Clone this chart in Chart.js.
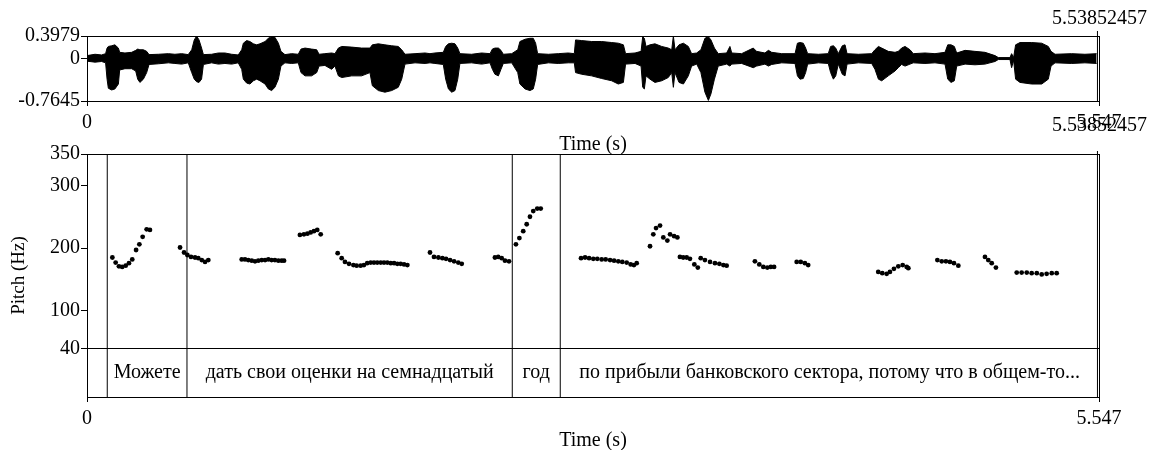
<!DOCTYPE html>
<html><head><meta charset="utf-8">
<script src="https://cdn.jsdelivr.net/npm/chart.js@4.4.0/dist/chart.umd.min.js"></script>
<style>
html,body{margin:0;padding:0;background:#fff;}
#wrap{position:relative;width:1149px;height:450px;overflow:hidden;}
canvas{position:absolute;left:0;top:0;}
</style></head><body>
<div id="wrap"><canvas id="wave" width="1149" height="450"></canvas><canvas id="pitch" width="1149" height="450"></canvas></div>
<script>
// ---- waveform envelope (seconds, amplitude) ----
const waveTimes = [0.000,0.044,0.080,0.102,0.110,0.117,0.135,0.153,0.172,0.179,0.208,0.245,0.267,0.278,0.290,0.309,0.327,0.340,0.391,0.446,0.482,0.519,0.555,0.574,0.588,0.601,0.614,0.628,0.638,0.683,0.720,0.756,0.793,0.829,0.848,0.857,0.875,0.893,0.912,0.930,0.948,0.976,0.994,1.012,1.030,1.049,1.063,1.085,1.122,1.158,1.173,1.195,1.231,1.259,1.272,1.304,1.341,1.359,1.378,1.396,1.451,1.505,1.551,1.564,1.597,1.633,1.670,1.706,1.725,1.743,1.798,1.853,1.880,
1.907,1.953,1.966,1.981,1.999,2.017,2.032,2.044,2.108,2.163,2.209,2.222,2.236,2.255,2.269,2.282,2.328,2.361,2.373,2.401,2.428,2.446,2.459,2.470,2.529,2.583,2.638,2.671,2.678,2.711,2.766,2.821,2.876,2.912,2.940,2.952,3.004,3.037,3.046,3.055,3.064,3.086,3.113,3.150,3.186,3.205,3.214,3.223,3.245,3.269,3.296,3.314,3.342,3.365,3.387,3.406,3.420,3.439,3.460,3.506,3.524,3.534,3.588,3.652,3.670,
3.716,3.735,3.753,3.808,3.881,3.894,3.908,3.926,3.939,3.950,4.009,4.063,4.076,4.091,4.104,4.118,4.140,4.155,4.166,4.228,4.301,4.319,4.338,4.356,4.392,4.429,4.447,4.465,4.484,4.511,4.529,4.593,4.648,4.703,4.718,4.736,4.754,4.767,4.813,4.867,4.922,4.977,4.995,5.059,5.068,5.079,5.090,5.114,5.178,5.233,5.269,5.284,5.306,5.397,5.470,5.534];
const waveMax = [0.047,0.071,0.059,0.082,0.182,0.211,0.223,0.240,0.182,0.106,0.094,0.106,0.141,0.164,0.152,0.152,0.123,0.065,0.071,0.082,0.071,0.082,0.065,0.152,0.328,0.398,0.328,0.182,0.065,0.071,0.094,0.094,0.071,0.059,0.152,0.269,0.316,0.299,0.258,0.240,0.258,0.299,0.357,0.386,0.375,0.269,0.123,0.065,0.082,0.071,0.164,0.182,0.164,0.152,0.071,0.082,0.094,0.082,0.182,0.211,0.199,0.182,0.182,0.240,0.258,0.240,0.223,0.211,0.152,0.071,0.082,0.094,0.082,
0.094,0.106,0.211,0.258,0.269,0.258,0.182,0.082,0.071,0.094,0.082,0.164,0.182,0.182,0.141,0.071,0.082,0.152,0.299,0.340,0.357,0.357,0.269,0.082,0.071,0.082,0.094,0.082,0.328,0.316,0.299,0.299,0.281,0.269,0.240,0.082,0.094,0.123,0.386,0.357,0.211,0.240,0.258,0.211,0.182,0.152,0.398,0.152,0.240,0.269,0.211,0.082,0.094,0.152,0.357,0.386,0.328,0.182,0.082,0.094,0.211,0.094,0.082,0.182,0.123,
0.094,0.141,0.106,0.082,0.082,0.269,0.281,0.269,0.182,0.082,0.071,0.082,0.211,0.223,0.182,0.082,0.223,0.240,0.082,0.071,0.082,0.152,0.211,0.182,0.123,0.106,0.123,0.182,0.211,0.152,0.082,0.094,0.082,0.106,0.240,0.240,0.211,0.094,0.141,0.123,0.106,0.047,0.012,0.012,0.082,0.012,0.240,0.281,0.281,0.269,0.211,0.123,0.071,0.082,0.071,0.082];
const waveMin = [-0.052,-0.070,-0.058,-0.082,-0.374,-0.537,-0.567,-0.549,-0.461,-0.210,-0.187,-0.187,-0.228,-0.374,-0.432,-0.374,-0.257,-0.111,-0.099,-0.082,-0.093,-0.105,-0.082,-0.257,-0.374,-0.420,-0.432,-0.374,-0.111,-0.082,-0.105,-0.093,-0.105,-0.082,-0.198,-0.374,-0.444,-0.461,-0.403,-0.374,-0.403,-0.461,-0.549,-0.578,-0.520,-0.374,-0.140,-0.082,-0.093,-0.082,-0.257,-0.315,-0.315,-0.257,-0.140,-0.128,-0.198,-0.140,-0.315,-0.345,-0.315,-0.315,-0.257,-0.491,-0.578,-0.607,-0.578,-0.520,-0.374,-0.105,-0.082,-0.093,-0.082,
-0.093,-0.111,-0.374,-0.549,-0.607,-0.578,-0.374,-0.093,-0.082,-0.105,-0.082,-0.198,-0.286,-0.315,-0.198,-0.093,-0.082,-0.257,-0.461,-0.549,-0.578,-0.549,-0.374,-0.111,-0.082,-0.093,-0.082,-0.082,-0.257,-0.286,-0.315,-0.362,-0.403,-0.461,-0.432,-0.105,-0.093,-0.140,-0.520,-0.549,-0.315,-0.374,-0.432,-0.403,-0.345,-0.257,-0.520,-0.257,-0.432,-0.461,-0.315,-0.140,-0.105,-0.257,-0.607,-0.754,-0.637,-0.374,-0.140,-0.105,-0.140,-0.105,-0.093,-0.169,-0.140,
-0.105,-0.140,-0.111,-0.082,-0.093,-0.315,-0.374,-0.362,-0.257,-0.105,-0.082,-0.093,-0.257,-0.374,-0.315,-0.105,-0.286,-0.315,-0.105,-0.082,-0.093,-0.198,-0.374,-0.403,-0.315,-0.228,-0.169,-0.111,-0.140,-0.105,-0.082,-0.093,-0.082,-0.105,-0.374,-0.432,-0.403,-0.140,-0.105,-0.117,-0.105,-0.058,-0.023,-0.023,-0.169,-0.035,-0.374,-0.432,-0.461,-0.461,-0.374,-0.140,-0.082,-0.093,-0.082,-0.093];

// ---- pitch track (seconds, Hz) ----
const pitchTimes = [0.139,0.157,0.175,0.193,0.212,0.230,0.248,0.269,0.287,0.305,0.327,0.345,
0.510,0.532,0.550,0.570,0.592,0.610,0.629,0.647,0.665,
0.848,0.866,0.884,0.903,0.921,0.939,0.958,0.976,0.994,1.012,1.030,1.049,1.067,1.080,
1.167,1.189,1.208,1.226,1.244,1.262,1.281,
1.374,1.396,1.414,1.436,1.460,1.478,1.500,1.518,1.536,1.555,1.573,1.591,1.610,1.628,1.646,1.665,1.683,1.701,1.719,1.738,1.756,
1.880,1.902,1.926,1.948,1.968,1.990,2.012,2.035,2.054,
2.236,2.254,2.273,2.291,2.313,
2.351,2.370,2.391,2.410,2.428,2.446,2.468,2.487,
2.708,2.730,2.752,2.775,2.797,2.821,2.843,2.867,2.889,2.912,2.934,2.958,2.980,2.998,3.013,
3.086,3.104,3.119,3.141,3.159,3.181,3.196,3.218,3.236,
3.250,3.268,3.287,3.305,3.329,3.348,
3.364,3.387,3.415,3.442,3.466,3.488,3.506,
3.661,3.685,3.707,3.729,3.748,3.766,
3.890,3.912,3.935,3.953,
4.337,4.359,4.383,4.401,4.423,4.447,4.471,4.493,4.502,
4.661,4.685,4.708,4.730,4.752,4.776,
4.922,4.940,4.959,4.982,
5.096,5.123,5.151,5.178,5.206,5.233,5.260,5.288,5.315];
const pitchHz = [185,177,171,170,172,176,182,197,206,218,230,229,
201,193,189,186,185,184,181,178,181,
182,182,181,180,179,180,181,181,182,181,181,180,180,180,
221,222,223,225,227,229,222,
192,184,178,175,173,172,172,173,176,177,177,177,177,177,177,176,176,175,175,174,173,
193,186,185,184,183,181,179,177,175,
185,186,184,180,179,
206,216,227,238,250,259,263,263,
184,185,184,183,183,182,182,181,180,179,178,177,174,173,176,
203,222,232,236,217,212,222,219,217,
186,185,185,183,174,169,
184,181,178,176,175,173,172,
179,174,170,169,170,170,
178,178,176,173,
162,160,159,162,167,171,173,170,168,
181,179,179,178,176,172,
186,181,176,169,
161,161,161,160,160,158,159,160,160];

// ---- text tier ----
const tierEdges = [0, 0.111, 0.548, 2.331, 2.594, 5.547];
const tierLabels = ['', 'Можете', 'дать свои оценки на семнадцатый', 'год', 'по прибыли банковского сектора, потому что в общем-то...'];

// ---- axes ----
const timeTicks = [0, 5.547];
const timeTickLabels = ['0', '5.547'];
const waveTicks = [-0.7645, 0, 0.3979];
const waveTickLabels = ['-0.7645', '0', '0.3979'];
const pitchTicks = [40, 100, 200, 300, 350];
const pitchTickLabels = ['40', '100', '200', '300', '350'];
const endMarker = 5.53852457;
const endMarkerLabel = '5.53852457';
const tierFloorHz = -37.3;
const pitchTopHz = 350;
const tierTopHz = 40;

const FONT = "'Liberation Serif', 'Times New Roman', serif";
const FS = 20;
Chart.defaults.font.family = FONT;
Chart.defaults.font.size = FS;
Chart.defaults.color = '#000';

const praatPlugin = {
  id: 'praat',
  afterDatasetsDraw(chart, args, opts) {
    const ctx = chart.ctx, a = chart.chartArea;
    const xs = chart.scales.x;
    ctx.save();
    ctx.strokeStyle = '#000';
    ctx.lineWidth = 1;
    ctx.strokeRect(Math.round(a.left) + 0.5, Math.round(a.top) + 0.5, Math.round(a.right - a.left), Math.round(a.bottom - a.top));
    // end-of-sound marker
    const mx = xs.getPixelForValue(endMarker);
    ctx.beginPath();
    ctx.moveTo(mx, a.top - opts.lineExt);
    ctx.lineTo(mx, a.bottom);
    ctx.stroke();
    ctx.fillStyle = '#000';
    ctx.textAlign = 'center';
    ctx.textBaseline = 'middle';
    ctx.font = FS + 'px ' + FONT;
    ctx.fillText(endMarkerLabel, mx + 2, a.top - opts.textDy);
    // tier labels
    if (opts.tier) {
      const ys = chart.scales.y;
      const ty = ys.getPixelForValue((tierTopHz + tierFloorHz) / 2);
      for (let i = 0; i < tierLabels.length; i++) {
        if (!tierLabels[i]) continue;
        const cx = xs.getPixelForValue((tierEdges[i] + tierEdges[i + 1]) / 2);
        ctx.fillText(tierLabels[i], cx, ty);
      }
    }
    ctx.restore();
  }
};

function timeAxis(h) {
  return {
    type: 'linear', min: 0, max: 5.547,
    afterBuildTicks: s => { s.ticks = timeTicks.map(v => ({ value: v })); },
    afterFit: s => { s.height = h; },
    ticks: { callback: (v, i) => timeTickLabels[i], autoSkip: false, maxRotation: 0, padding: 5, color: '#000' },
    grid: { drawOnChartArea: false, drawTicks: true, tickLength: 5, color: '#000' },
    border: { color: '#000', width: 1 },
    title: { display: true, text: 'Time (s)', color: '#000', padding: { top: 0, bottom: -3 } }
  };
}

new Chart(document.getElementById('wave'), {
  type: 'line',
  data: {
    datasets: [
      { data: waveTimes.map((t, i) => ({ x: t, y: waveMax[i] })), fill: '+1', backgroundColor: '#000', borderColor: '#000', borderWidth: 1, pointRadius: 0, tension: 0 },
      { data: waveTimes.map((t, i) => ({ x: t, y: waveMin[i] })), fill: false, borderColor: '#000', borderWidth: 1, pointRadius: 0, tension: 0 }
    ]
  },
  options: {
    responsive: false, animation: false, devicePixelRatio: 1,
    layout: { padding: { left: 0, right: 50, top: 36, bottom: 296 } },
    plugins: { legend: { display: false }, tooltip: { enabled: false }, praat: { lineExt: 5, textDy: 17, tier: false } },
    scales: {
      x: timeAxis(53),
      y: {
        type: 'linear', min: -0.7645, max: 0.3979,
        afterBuildTicks: s => { s.ticks = waveTicks.map(v => ({ value: v })); },
        afterFit: s => { s.width = 87; },
        ticks: { callback: (v, i) => waveTickLabels[i], autoSkip: false, padding: 1, color: '#000' },
        grid: { drawOnChartArea: false, drawTicks: true, tickLength: 6, color: '#000' },
        border: { color: '#000', width: 1 }
      }
    }
  },
  plugins: [praatPlugin]
});

const boundaryDatasets = tierEdges.slice(1, -1).map(t => ({
  data: [{ x: t, y: tierFloorHz }, { x: t, y: pitchTopHz }],
  showLine: true, borderColor: '#000', borderWidth: 1, pointRadius: 0
}));

new Chart(document.getElementById('pitch'), {
  type: 'scatter',
  data: {
    datasets: [
      { data: pitchTimes.map((t, i) => ({ x: t, y: pitchHz[i] })), backgroundColor: '#000', borderWidth: 0, pointRadius: 2.4 },
      { data: [{ x: 0, y: tierTopHz }, { x: 5.547, y: tierTopHz }], showLine: true, borderColor: '#000', borderWidth: 1, pointRadius: 0 },
      ...boundaryDatasets
    ]
  },
  options: {
    responsive: false, animation: false, devicePixelRatio: 1,
    layout: { padding: { left: 0, right: 50, top: 154, bottom: 0 } },
    plugins: { legend: { display: false }, tooltip: { enabled: false }, praat: { lineExt: 3, textDy: 28, tier: true } },
    scales: {
      x: timeAxis(53),
      y: {
        type: 'linear', min: tierFloorHz, max: pitchTopHz,
        afterBuildTicks: s => { s.ticks = pitchTicks.map(v => ({ value: v })); },
        afterFit: s => { s.width = 87; },
        ticks: { callback: (v, i) => pitchTickLabels[i], autoSkip: false, padding: 1, color: '#000' },
        grid: { drawOnChartArea: false, drawTicks: true, tickLength: 6, color: '#000' },
        border: { color: '#000', width: 1 },
        title: { display: true, text: 'Pitch (Hz)', color: '#000', font: { size: 19 }, padding: { top: 8, bottom: 0 } }
      }
    }
  },
  plugins: [praatPlugin]
});
</script>
</body></html>
